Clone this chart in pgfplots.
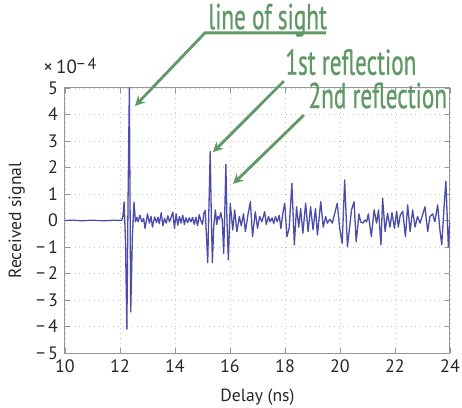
\documentclass[border=0pt]{standalone}
\usepackage{pgfplots}
\pgfplotsset{compat=1.18}
\usepackage{fontspec}
\setmainfont{PT Sans}
\newfontfamily\annfont[FakeStretch=0.645,FakeBold=0.6]{PT Sans}
\usetikzlibrary{arrows.meta}
\definecolor{sig}{RGB}{76,76,170}
\definecolor{ann}{RGB}{96,152,102}
\definecolor{axgray}{RGB}{150,150,150}
\definecolor{gridgray}{RGB}{200,200,200}
\begin{document}
\begin{tikzpicture}
\begin{axis}[
  scale only axis, width=192.5pt, height=132.5pt,
  xmin=10, xmax=24, ymin=-5, ymax=5,
  xtick={10,12,...,24}, ytick={-5,-4,...,5},
  yticklabels={−\,5,−\,4,−\,3,−\,2,−\,1,0,1,2,3,4,5},
  /pgf/number format/assume math mode=true,
  tick label style={font=\fontsize{9}{10}\selectfont, text=black!85},
  label style={font=\fontsize{8.8}{10}\selectfont, text=black!85},
  xlabel={Delay (ns)}, ylabel={Received signal},
  xlabel style={at={(axis description cs:0.5,-0.166)}, anchor=center},
  ylabel style={at={(axis description cs:-0.125,0.5)}, anchor=center},
  axis line style={axgray, line width=0.5pt},
  tick style={axgray, line width=0.4pt}, tick align=inside, major tick length=2.5pt,
  grid=major, major grid style={gridgray, dotted, line width=0.4pt},
  clip mode=individual,
]
\addplot[sig, line width=0.65pt, line join=round] coordinates {
(10.0,0) (10.3,0.01) (10.6,-0.01) (11.0,0.01) (11.4,-0.01) (11.8,0.01) (12.05,0.0) (12.1,0.1)
(12.15,0.7) (12.20,-0.8) (12.25,-4.1) (12.29,0.5) (12.34,5.0) (12.39,-3.45) (12.45,-0.6) (12.51,0.7)
(12.56,-0.05) (12.61,0.12) (12.66,-0.05) (12.72,0.2) (12.80,-0.05) (12.86,0.08) (12.91,-0.3) (13.00,0.25)
(13.07,-0.1) (13.13,0.15) (13.18,-0.25) (13.26,0.13) (13.33,-0.08) (13.38,0.12) (13.43,-0.12) (13.50,0.3)
(13.56,-0.2) (13.62,0.08) (13.68,-0.1) (13.74,0.18) (13.80,-0.05) (13.86,0.12) (13.92,0.32) (13.98,-0.3)
(14.04,0.25) (14.10,-0.18) (14.16,0.15) (14.22,-0.1) (14.28,0.2) (14.34,-0.15) (14.40,0.1) (14.46,-0.08)
(14.52,0.1) (14.58,-0.05) (14.64,0.12) (14.70,-0.15) (14.76,0.12) (14.82,-0.2) (14.88,0.22) (14.94,0.0)
(15.00,-0.15) (15.05,0.28) (15.10,0.38) (15.14,-0.5) (15.19,-1.59) (15.23,0.3) (15.28,2.6) (15.32,0.2)
(15.36,-1.59) (15.41,-0.2) (15.47,0.4) (15.52,-0.15) (15.56,0.15) (15.61,0.05) (15.66,0.3) (15.72,0.0)
(15.77,-1.24) (15.81,0.3) (15.85,2.12) (15.89,0.0) (15.94,-1.49) (16.01,0.65) (16.10,-0.36) (16.17,0.40)
(16.25,-0.42) (16.34,0.15) (16.41,-0.2) (16.49,0.25) (16.56,-0.42) (16.65,0.2) (16.74,0.71) (16.82,-0.61)
(16.92,0.33) (17.0,-0.3) (17.08,0.15) (17.16,-0.05) (17.26,0.33) (17.32,-0.15) (17.40,0.15) (17.46,-0.05)
(17.53,0.1) (17.59,-0.12) (17.65,0.15) (17.72,-0.05) (17.79,0.2) (17.85,-0.3) (17.93,0.33) (17.99,0.65)
(18.07,-0.61) (18.15,-0.3) (18.25,1.40) (18.34,-0.92) (18.42,0.52) (18.50,-0.25) (18.57,0.45) (18.65,-0.48)
(18.75,0.65) (18.84,-0.42) (18.93,0.52) (19.02,-0.35) (19.11,0.45) (19.18,-0.55) (19.30,0.71) (19.39,-0.25)
(19.48,0.15) (19.54,-0.1) (19.63,0.05) (19.72,-0.1) (19.78,0.15) (19.90,0.65) (19.99,-0.3) (20.08,-0.86)
(20.17,1.53) (20.27,-0.99) (20.35,-0.25) (20.42,0.4) (20.51,0.71) (20.59,-0.8) (20.69,0.25) (20.75,-0.05)
(20.83,-0.1) (20.91,0.02) (20.97,-0.05) (21.03,0.25) (21.14,-0.61) (21.24,0.4) (21.33,-0.1) (21.40,0.4)
(21.49,-0.92) (21.55,0.84) (21.64,-0.42) (21.73,0.27) (21.82,-0.25) (21.89,0.3) (21.98,-0.3) (22.06,0.35)
(22.12,-0.25) (22.19,0.2) (22.28,0.35) (22.38,-0.61) (22.46,0.59) (22.55,-0.42) (22.64,0.4) (22.73,-0.25)
(22.82,0.15) (22.91,-0.1) (23.0,0.2) (23.09,0.52) (23.19,-0.42) (23.27,0.15) (23.37,0.25) (23.45,-0.05)
(23.55,0.59) (23.64,-0.42) (23.70,-0.92) (23.79,0.6) (23.85,1.47) (23.94,-0.99) (24.0,0.02)
};
% annotations
\draw[ann, line width=1.4pt, -{Stealth[length=5pt,width=5pt]}]
  (axis cs:19.49,7.08) -- (axis cs:15.09,7.08) -- (axis cs:12.545,4.32);
\node[ann, anchor=base west, inner sep=0pt, font=\annfont\fontsize{18}{20}\selectfont]
  at (axis cs:15.2,7.22) {line of sight};
\draw[ann, line width=1.4pt, -{Stealth[length=5pt,width=5pt]}]
  (axis cs:17.96,5.26) -- (axis cs:15.38,2.58);
\node[ann, anchor=base west, inner sep=0pt, font=\annfont\fontsize{18}{20}\selectfont]
  at (axis cs:18.0,5.5) {1st reflection};
\draw[ann, line width=1.4pt, -{Stealth[length=5pt,width=5pt]}]
  (axis cs:18.69,3.98) -- (axis cs:16.11,1.38);
\node[ann, anchor=base west, inner sep=0pt, font=\annfont\fontsize{18}{20}\selectfont]
  at (axis cs:18.84,4.24) {2nd reflection};
\node[anchor=base west, inner sep=0pt, text=black!85, font=\fontsize{9.5}{11}\selectfont]
  at (axis cs:9.2,5.53) {×\,10\raisebox{0.5ex}{\fontsize{8}{9}\selectfont −\,4}};
\end{axis}
\pgfresetboundingbox
\path (-32.5pt,-27.5pt) rectangle (198.5pt,176.5pt);
\end{tikzpicture}
\end{document}
